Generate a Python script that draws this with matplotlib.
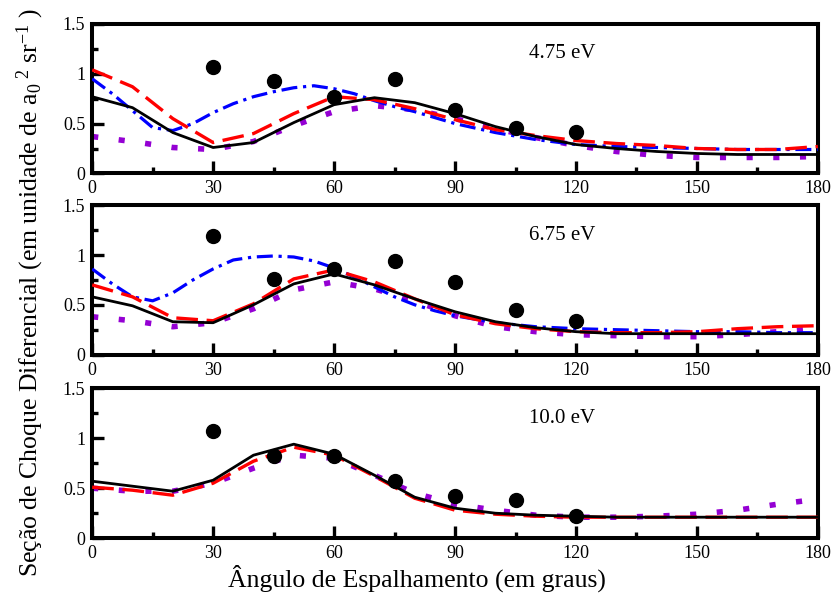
import numpy as np
import matplotlib
matplotlib.use("Agg")
import matplotlib.pyplot as plt
from matplotlib.ticker import MultipleLocator

plt.rcParams['font.family'] = ['Liberation Serif', 'DejaVu Serif']
plt.rcParams['mathtext.fontset'] = 'custom'
plt.rcParams['mathtext.rm'] = 'Liberation Serif'
plt.rcParams['mathtext.it'] = 'Liberation Serif:italic'

# ---- data ----
ang10 = [0, 10, 20, 30, 40, 50, 60, 70, 80, 90, 100, 110, 120, 130, 140, 150, 160, 170, 180]
ang_blue = [0, 5, 10, 15, 20, 25, 30, 35, 40, 45, 50, 55, 60, 65, 70, 75, 80, 85, 90,
            100, 110, 120, 130, 140, 150, 160, 170, 180]
ang_exp = [30, 45, 60, 75, 90, 105, 120]

energies = ["4.75 eV", "6.75 eV", "10.0 eV"]

# 4.75 eV
black_475 = [0.77, 0.66, 0.41, 0.26, 0.31, 0.51, 0.69, 0.76, 0.71, 0.60, 0.47, 0.37, 0.29, 0.25, 0.22, 0.20, 0.19, 0.19, 0.19]
red_475 = [1.04, 0.87, 0.55, 0.31, 0.40, 0.60, 0.77, 0.74, 0.65, 0.54, 0.44, 0.38, 0.33, 0.30, 0.28, 0.25, 0.24, 0.24, 0.27]
blue_475 = [0.95, 0.80, 0.63, 0.46, 0.43, 0.50, 0.61, 0.70, 0.77, 0.82, 0.86, 0.88, 0.85, 0.80, 0.73, 0.67, 0.62, 0.56, 0.50,
            0.41, 0.34, 0.29, 0.27, 0.26, 0.25, 0.24, 0.24, 0.24]
purple_475 = [0.37, 0.32, 0.26, 0.24, 0.32, 0.48, 0.62, 0.68, 0.64, 0.55, 0.45, 0.36, 0.28, 0.22, 0.18, 0.16, 0.16, 0.16, 0.17]
exp_475 = [1.07, 0.93, 0.77, 0.95, 0.64, 0.46, 0.42]

# 6.75 eV
black_675 = [0.58, 0.49, 0.33, 0.32, 0.50, 0.71, 0.81, 0.70, 0.56, 0.43, 0.33, 0.27, 0.23, 0.21, 0.21, 0.21, 0.21, 0.21, 0.21]
red_675 = [0.70, 0.58, 0.37, 0.34, 0.51, 0.76, 0.85, 0.73, 0.56, 0.40, 0.31, 0.26, 0.23, 0.22, 0.22, 0.23, 0.26, 0.28, 0.29]
blue_675 = [0.86, 0.71, 0.58, 0.54, 0.62, 0.75, 0.86, 0.95, 0.98, 0.99, 0.98, 0.94, 0.87, 0.78, 0.68, 0.58, 0.50, 0.44, 0.39,
            0.32, 0.28, 0.26, 0.25, 0.24, 0.23, 0.23, 0.22, 0.22]
purple_675 = [0.38, 0.34, 0.28, 0.32, 0.46, 0.65, 0.73, 0.66, 0.54, 0.39, 0.28, 0.23, 0.20, 0.19, 0.18, 0.18, 0.20, 0.23, 0.26]
exp_675 = [1.19, 0.76, 0.86, 0.94, 0.73, 0.45, 0.34]

# 10.0 eV (no dash-dot curve)
black_100 = [0.57, 0.52, 0.47, 0.58, 0.83, 0.94, 0.84, 0.63, 0.41, 0.30, 0.25, 0.23, 0.22, 0.21, 0.21, 0.21, 0.21, 0.21, 0.21]
red_100 = [0.51, 0.48, 0.43, 0.55, 0.77, 0.91, 0.83, 0.62, 0.40, 0.28, 0.24, 0.22, 0.21, 0.21, 0.21, 0.21, 0.21, 0.21, 0.21]
purple_100 = [0.50, 0.47, 0.47, 0.55, 0.70, 0.83, 0.80, 0.63, 0.45, 0.34, 0.28, 0.23, 0.21, 0.21, 0.22, 0.24, 0.28, 0.34, 0.39]
exp_100 = [1.07, 0.82, 0.82, 0.57, 0.42, 0.38, 0.22]

panels = [
    (black_475, red_475, blue_475, purple_475, exp_475),
    (black_675, red_675, blue_675, purple_675, exp_675),
    (black_100, red_100, None, purple_100, exp_100),
]

fig = plt.figure(figsize=(8.38, 6.0), dpi=100)
left, width = 0.110, 0.866
boxes = [(0.711, 0.249), (0.409, 0.249), (0.103, 0.250)]

for (bottom, height), (blk, red, blu, pur, exp), label in zip(boxes, panels, energies):
    ax = fig.add_axes([left, bottom, width, height])
    ax.plot(ang10, pur, color='#9400D3', lw=4.0, dashes=(1.1, 3.7), zorder=2)
    if blu is not None:
        ax.plot(ang_blue, blu, color='#0000FF', lw=2.3, dashes=(5.0, 1.8, 1.0, 1.8), zorder=3)
    ax.plot(ang10, red, color='#FF0000', lw=2.4, dashes=(6.5, 2.6), zorder=4)
    ax.plot(ang10, blk, color='black', lw=2.0, zorder=5)
    ax.plot(ang_exp, exp, 'o', color='black', ms=10, zorder=6)

    ax.set_xlim(0, 180)
    ax.set_ylim(0, 1.5)
    ax.xaxis.set_major_locator(MultipleLocator(30))
    ax.xaxis.set_minor_locator(MultipleLocator(15))
    ax.yaxis.set_major_locator(MultipleLocator(0.5))
    ax.yaxis.set_minor_locator(MultipleLocator(0.25))
    ax.set_yticks([0, 0.5, 1, 1.5])
    ax.set_yticklabels(['0', '0.5', '1', '1.5'])
    ax.tick_params(which='major', direction='in', length=8.5, width=2.4, labelsize=13, pad=5)
    ax.tick_params(which='minor', direction='in', length=4, width=2.4)
    for sp in ax.spines.values():
        sp.set_linewidth(2.9)
    ax.text(116.5, 1.2, label, ha='center', va='center', fontsize=15)

fig.text(0.497, 0.037, "Ângulo de Espalhamento (em graus)", ha='center', va='center', fontsize=18.5)
fig.text(0.036, 0.512, r"Seção de Choque Diferencial (em unidade de a$_0$$^{\ 2}$ sr$^{-1}$ )",
         ha='center', va='center', rotation=90, fontsize=18.5)

fig.savefig("out.png", dpi=100)
